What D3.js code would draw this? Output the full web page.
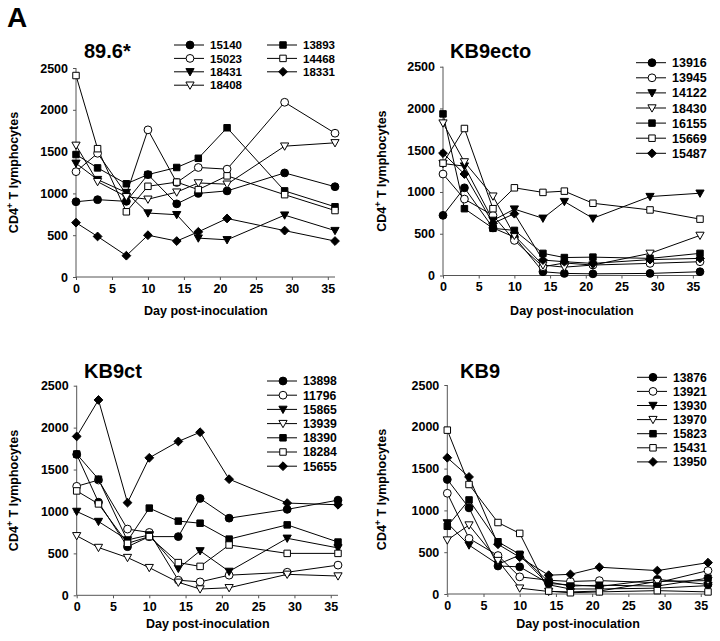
<!DOCTYPE html>
<html><head><meta charset="utf-8">
<script src="https://cdn.jsdelivr.net/npm/d3@7"></script>
<style>
body{margin:0;background:#fff;}
svg{display:block;font-family:"Liberation Sans",Arial,Helvetica,sans-serif;}
</style></head>
<body><svg id="chart" width="720" height="641"></svg>
<script>
// ---- data ----
const days = [0, 3, 7, 10, 14, 17, 21, 29, 36];
const xTicks = [0, 5, 10, 15, 20, 25, 30, 35];
const yTicks = [0, 500, 1000, 1500, 2000, 2500];
const panelTitles = ["89.6*", "KB9ecto", "KB9ct", "KB9"];

const ids896 = ["15140", "15023", "18431", "18408", "13893", "14468", "18331"];
const values896 = [
  [900, 925, 905, 1225, 875, 1000, 1030, 1245, 1080],
  [1260, 1480, 990, 1760, 1130, 1310, 1290, 2090, 1720],
  [1360, 1165, 1010, 765, 745, 465, 445, 740, 555],
  [1575, 1140, 960, 930, 1015, 1125, 1110, 1565, 1605],
  [1465, 1305, 1115, 1225, 1310, 1420, 1785, 1030, 840],
  [2410, 1535, 780, 1085, 1135, 1045, 1210, 985, 795],
  [650, 485, 255, 500, 430, 540, 700, 555, 430]
];

const idsEcto = ["13916", "13945", "14122", "18430", "16155", "15669", "15487"];
const valuesEcto = [
  [720, 1050, 570, 460, 45, 25, 20, 25, 45],
  [1215, 915, 720, 420, 105, 150, 125, 145, 165],
  [1340, 1310, 660, 795, 685, 885, 685, 945, 985],
  [1825, 1360, 950, 480, 125, 100, 125, 265, 480],
  [1935, 800, 565, 540, 265, 215, 220, 205, 265],
  [1345, 1760, 800, 1050, 995, 1010, 865, 785, 675],
  [1465, 1215, 625, 740, 185, 165, 145, 190, 205]
];

const idsCt = ["13898", "11796", "15865", "13939", "18390", "18284", "15655"];
const valuesCt = [
  [1680, 1110, 580, 700, 700, 1155, 920, 1025, 1135],
  [1300, 1375, 790, 750, 180, 160, 240, 275, 360],
  [1000, 880, 660, 720, 320, 530, 285, 680, 565],
  [710, 570, 450, 330, 155, 75, 90, 250, 230],
  [1685, 1385, 650, 1040, 885, 860, 670, 840, 635],
  [1245, 1090, 620, 700, 390, 345, 600, 500, 500],
  [1895, 2330, 1105, 1640, 1835, 1945, 1385, 1100, 1080]
];

const idsKB9 = ["13876", "13921", "13930", "13970", "15823", "15431", "13950"];
const valuesKB9 = [
  [1370, 1030, 335, 325, 125, 110, 90, 175, 115],
  [1205, 665, 460, 205, 165, 150, 160, 135, 280],
  [850, 585, 355, 465, 110, 60, 60, 70, 100],
  [645, 825, 400, 70, 30, 25, 35, 150, 160],
  [810, 1125, 625, 475, 145, 95, 105, 95, 190],
  [1960, 1310, 855, 725, 35, 15, 25, 40, 25],
  [1630, 1400, 595, 440, 225, 235, 320, 280, 375]
];

// marker style per series index: filled circle, open circle, filled tri, open tri, filled sq, open sq, filled diamond
const markerShapes = ["circle", "circle", "tri", "tri", "square", "square", "diamond"];
const markerFilled = [true, false, true, false, true, false, true];

// ---- layout ----
const svg = d3.select("#chart");
const panels = [
  {ids: ids896, vals: values896, x0: 76, x1: 335, y0: 277, y1: 68, title: [84, 58], ylab: 18, xlabY: 315,
   legend: {cols: [{x: 174, ids: [0,1,2,3]}, {x: 267, ids: [4,5,6]}], y0: 45, dy: 13.4, fs: 11.5}},
  {ids: idsEcto, vals: valuesEcto, x0: 443, x1: 700, y0: 275.5, y1: 66.7, title: [450, 58], ylab: 386, xlabY: 315,
   legend: {cols: [{x: 636, ids: [0,1,2,3,4,5,6]}], y0: 62.7, dy: 15.1, fs: 12.5}},
  {ids: idsCt, vals: valuesCt, x0: 76.7, x1: 338, y0: 595.3, y1: 385.7, title: [84, 378], ylab: 18, xlabY: 628,
   legend: {cols: [{x: 267, ids: [0,1,2,3,4,5,6]}], y0: 381, dy: 14.2, fs: 12.2}},
  {ids: idsKB9, vals: valuesKB9, x0: 447.3, x1: 708, y0: 594, y1: 385, title: [460, 378], ylab: 386, xlabY: 628,
   legend: {cols: [{x: 637, ids: [0,1,2,3,4,5,6]}], y0: 377.3, dy: 14.1, fs: 12.2}}
];

function markerPath(shape) {
  if (shape === "circle") return d3.symbol(d3.symbolCircle, 48)();
  if (shape === "square") return d3.symbol(d3.symbolSquare, 42)();
  if (shape === "tri") return "M-4.1,-3.2L4.1,-3.2L0,4.1Z";
  return "M0,-4.4L4.4,0L0,4.4L-4.4,0Z";
}

function drawMarker(g, i, x, y) {
  g.append("path")
    .attr("d", markerPath(markerShapes[i]))
    .attr("transform", `translate(${x},${y})`)
    .attr("fill", markerFilled[i] ? "#000" : "#fff")
    .attr("stroke", "#000")
    .attr("stroke-width", 1);
}

svg.append("text").attr("x", 7).attr("y", 27)
  .attr("font-size", 28).attr("font-weight", "bold").text("A");

panels.forEach((p, pi) => {
  const g = svg.append("g");
  const x = d3.scaleLinear().domain([0, 36]).range([p.x0, p.x1]);
  const y = d3.scaleLinear().domain([0, 2500]).range([p.y0, p.y1]);

  // axes
  const xAxis = d3.axisBottom(x).tickValues(xTicks).tickSize(3).tickPadding(4).tickFormat(d3.format("d"));
  const yAxis = d3.axisLeft(y).tickValues(yTicks).tickSize(3).tickPadding(5).tickFormat(d3.format("d"));
  const gx = g.append("g").attr("transform", `translate(0,${p.y0})`).call(xAxis);
  const gy = g.append("g").attr("transform", `translate(${p.x0},0)`).call(yAxis);
  [gx, gy].forEach(a => {
    a.select(".domain").attr("stroke", "#555").attr("stroke-width", 1);
    a.selectAll(".tick line").attr("stroke", "#555");
    a.selectAll(".tick text").attr("font-size", 12.5).attr("font-weight", "bold")
      .attr("font-family", "Liberation Sans, Arial, sans-serif").attr("fill", "#000");
  });
  gx.select(".domain").attr("d", `M${p.x0},0H${p.x1}`);
  gy.select(".domain").attr("d", `M0,${p.y0}V${p.y1}`);

  // lines & markers
  const line = d3.line().x((d, k) => x(days[k])).y(d => y(d));
  p.vals.forEach((vals, si) => {
    g.append("path").datum(vals).attr("d", line)
      .attr("fill", "none").attr("stroke", "#000").attr("stroke-width", 1);
  });
  p.vals.forEach((vals, si) => {
    vals.forEach((v, k) => drawMarker(g, si, x(days[k]), y(v)));
  });

  // title
  g.append("text").attr("x", p.title[0]).attr("y", p.title[1])
    .attr("font-size", 20).attr("font-weight", "bold").text(panelTitles[pi]);

  // y label
  const yMid = (p.y0 + p.y1) / 2;
  const yl = g.append("text").attr("transform", `translate(${p.ylab},${yMid}) rotate(-90)`)
    .attr("text-anchor", "middle").attr("font-size", 12.5).attr("font-weight", "bold");
  yl.append("tspan").text("CD4");
  yl.append("tspan").attr("dy", -5).attr("font-size", 9).text("+");
  yl.append("tspan").attr("dy", 5).text(" T lymphocytes");

  // x label
  g.append("text").attr("x", (p.x0 + x(35)) / 2 + 4).attr("y", p.xlabY)
    .attr("text-anchor", "middle").attr("font-size", 12.5).attr("font-weight", "bold")
    .text("Day post-inoculation");

  // legend
  p.legend.cols.forEach(col => {
    col.ids.forEach((si, r) => {
      const ly = p.legend.y0 + r * p.legend.dy;
      g.append("line").attr("x1", col.x).attr("x2", col.x + 30).attr("y1", ly).attr("y2", ly)
        .attr("stroke", "#000").attr("stroke-width", 1);
      drawMarker(g, si, col.x + 16, ly);
      g.append("text").attr("x", col.x + 36).attr("y", ly + p.legend.fs * 0.36)
        .attr("font-size", p.legend.fs).attr("font-weight", "bold").text(p.ids[si]);
    });
  });
});
</script></body></html>
